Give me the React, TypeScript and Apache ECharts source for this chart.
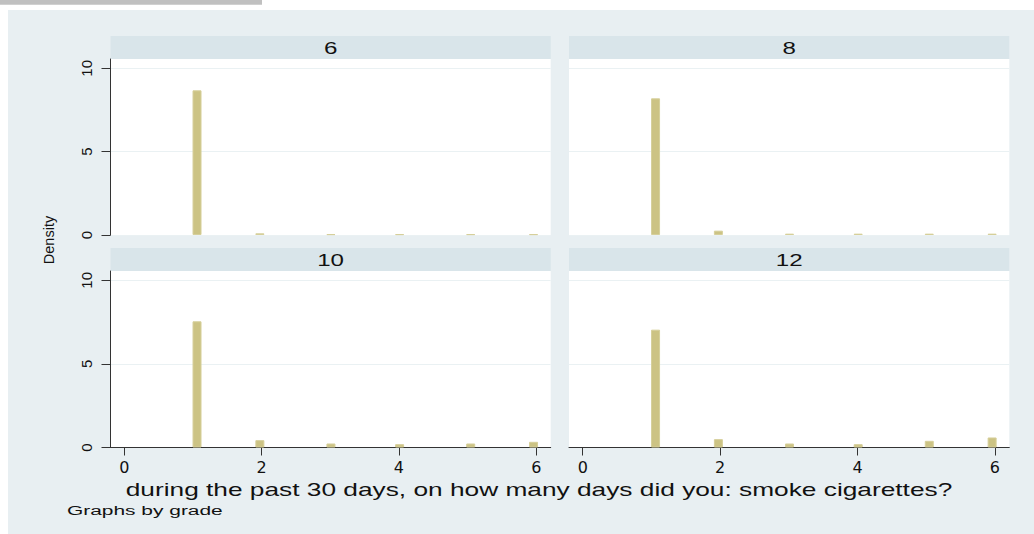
import React, { useEffect, useRef } from "react";
import * as echarts from "echarts";

// bin midpoints (days) and density per grade panel
const binCenters = [1.06, 1.975, 3.01, 4.01, 5.045, 5.96];
const panelTitles = ["6", "8", "10", "12"];
const density6 = [8.68, 0.1, 0.05, 0.05, 0.05, 0.05];
const density8 = [8.2, 0.26, 0.08, 0.08, 0.08, 0.08];
const density10 = [7.55, 0.44, 0.24, 0.2, 0.24, 0.34];
const density12 = [7.05, 0.5, 0.24, 0.2, 0.4, 0.6];
const xTicks = [0, 2, 4, 6];
const yTicks = [0, 5, 10];
const xTitle = "during the past 30 days, on how many days did you: smoke cigarettes?";
const yTitle = "Density";
const note = "Graphs by grade";

const FONT = "Liberation Sans, Arial, Helvetica, sans-serif";
const WIDE = "DejaVu Sans, Liberation Sans, sans-serif";

export default function App() {
  const ref = useRef<HTMLDivElement>(null);
  useEffect(() => {
    if (!ref.current) return;
    const chart = echarts.init(ref.current, null, { renderer: "svg" });
    const allData = [density6, density8, density10, density12];

    const grids = [
      { left: 110.5, top: 59, width: 440.2, height: 176 },
      { left: 569, top: 59, width: 440.3, height: 176 },
      { left: 110.5, top: 271, width: 440.2, height: 176.5 },
      { left: 569, top: 271, width: 440.3, height: 176.5 },
    ];

    const xAxis = grids.map((_, i) => {
      const bottom = i >= 2;
      return {
        type: "value",
        gridIndex: i,
        min: -0.2,
        max: 6.21,
        show: bottom,
        axisLine: { show: bottom, onZero: false, lineStyle: { color: "#333", width: 1 } },
        axisTick: {
          show: bottom,
          length: 8,
          customValues: xTicks,
          lineStyle: { color: "#333", width: 1 },
        },
        axisLabel: {
          show: bottom,
          customValues: xTicks,
          margin: 12,
          color: "#111",
          fontSize: 16,
          fontFamily: WIDE,
        },
        splitLine: { show: false },
      };
    });

    const yAxis = grids.map((_, i) => {
      const left = i % 2 === 0;
      return {
        type: "value",
        gridIndex: i,
        min: 0,
        max: 10.56,
        interval: 5,
        axisLine: { show: left, onZero: false, lineStyle: { color: "#333", width: 1 } },
        axisTick: {
          show: left,
          length: 9,
          customValues: yTicks,
          lineStyle: { color: "#333", width: 1 },
        },
        axisLabel: {
          show: left,
          customValues: yTicks,
          rotate: 90,
          margin: 17,
          color: "#111",
          fontSize: 15,
          fontFamily: FONT,
        },
        splitLine: { show: true, lineStyle: { color: "#eaf1f3", width: 1 } },
      };
    });

    const series = allData.map((d, i) => ({
      type: "bar",
      xAxisIndex: i,
      yAxisIndex: i,
      barWidth: 9,
      data: d.map((v, j) => [binCenters[j], v]),
      itemStyle: { color: "#ccc384", borderColor: "#d6cf9a", borderWidth: 1 },
      z: 3,
    }));

    const graphic: any[] = [
      { type: "rect", z: -10, shape: { x: 0, y: 0, width: 262, height: 4.7 }, style: { fill: "#c0c0c0" } },
      { type: "rect", z: -10, shape: { x: 8, y: 10, width: 1026, height: 524 }, style: { fill: "#e8eff2" } },
    ];
    grids.forEach((g, i) => {
      graphic.push({
        type: "rect",
        z: -9,
        shape: { x: g.left, y: g.top, width: g.width, height: g.height },
        style: { fill: "#ffffff" },
      });
      graphic.push({
        type: "rect",
        z: -9,
        shape: { x: g.left, y: g.top - 23, width: g.width, height: 23 },
        style: { fill: "#d9e5ea" },
      });
      graphic.push({
        type: "text",
        z: 5,
        x: g.left + g.width / 2,
        y: g.top - 11,
        scaleX: 1.42,
        style: {
          text: panelTitles[i],
          fontSize: 17,
          fontFamily: FONT,
          fill: "#111",
          textAlign: "center",
          textVerticalAlign: "middle",
        },
      });
    });
    graphic.push({
      type: "text",
      z: 5,
      x: 539,
      y: 490,
      scaleX: 1.46,
      style: { text: xTitle, fontSize: 18, fontFamily: FONT, fill: "#111", textAlign: "center", textVerticalAlign: "middle" },
    });
    graphic.push({
      type: "text",
      z: 5,
      x: 49,
      y: 240,
      rotation: Math.PI / 2,
      style: { text: yTitle, fontSize: 14.5, fontFamily: FONT, fill: "#111", textAlign: "center", textVerticalAlign: "middle" },
    });
    graphic.push({
      type: "text",
      z: 5,
      x: 67,
      y: 510,
      scaleX: 1.55,
      style: { text: note, fontSize: 13.5, fontFamily: FONT, fill: "#111", textAlign: "left", textVerticalAlign: "middle" },
    });

    chart.setOption({
      animation: false,
      backgroundColor: "#ffffff",
      grid: grids,
      xAxis,
      yAxis,
      series,
      graphic,
    });
    return () => chart.dispose();
  }, []);
  return (
    <div
      ref={ref}
      style={{ position: "absolute", left: 0, top: 0, width: 1034, height: 534 }}
    />
  );
}
